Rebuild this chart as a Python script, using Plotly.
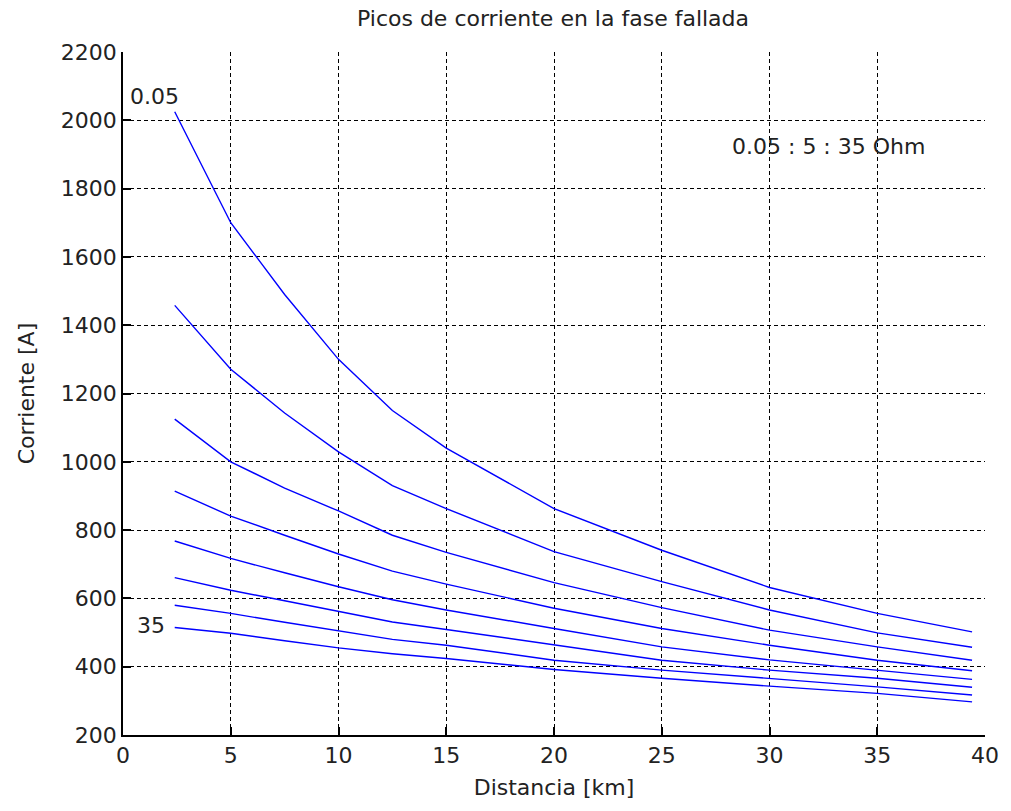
import plotly.graph_objects as go

# Distance samples [km]
distancia = [2.4, 5, 7.5, 10, 12.5, 15, 20, 25, 30, 35, 39.4]

# Fault resistance values [Ohm]: 0.05 : 5 : 35
resistencias = [0.05, 5.05, 10.05, 15.05, 20.05, 25.05, 30.05, 35.05]

# Peak current [A] for each fault resistance
i_r0 = [2025, 1700, 1490, 1300, 1150, 1040, 863, 741, 632, 556, 502]
i_r1 = [1458, 1271, 1143, 1029, 930, 863, 737, 649, 566, 499, 457]
i_r2 = [1125, 1000, 923, 856, 785, 735, 646, 573, 507, 458, 419]
i_r3 = [914, 841, 785, 730, 680, 642, 571, 512, 463, 419, 388]
i_r4 = [768, 717, 675, 634, 596, 566, 512, 458, 420, 390, 363]
i_r5 = [661, 624, 593, 561, 531, 509, 463, 419, 390, 366, 340]
i_r6 = [580, 556, 530, 504, 480, 463, 419, 390, 366, 341, 317]
i_r7 = [515, 498, 476, 455, 438, 424, 392, 366, 343, 322, 297]

series = [i_r0, i_r1, i_r2, i_r3, i_r4, i_r5, i_r6, i_r7]

x_ticks = [0, 5, 10, 15, 20, 25, 30, 35, 40]
y_ticks = [200, 400, 600, 800, 1000, 1200, 1400, 1600, 1800, 2000, 2200]

FONT = "DejaVu Sans"
FS = 22
TXT = "#222222"

fig = go.Figure()
for r, vals in zip(resistencias, series):
    fig.add_trace(go.Scatter(
        x=distancia, y=vals, mode="lines",
        line=dict(color="#0000FF", width=1.4),
        name=f"{r} Ohm", showlegend=False,
    ))

axis_common = dict(
    showgrid=True, gridcolor="black", gridwidth=1, griddash="4px,3px",
    zeroline=False, showline=True, linecolor="black", linewidth=1.5,
    ticks="inside", ticklen=8, tickcolor="black", tickwidth=1.5,
    tickfont=dict(family=FONT, size=FS, color=TXT),
    mirror=False,
)

fig.update_xaxes(
    range=[0, 40], tickvals=x_ticks, ticktext=[str(v) for v in x_ticks],
    title=dict(text="Distancia [km]", font=dict(family=FONT, size=FS, color=TXT), standoff=12),
    **axis_common,
)
fig.update_yaxes(
    range=[200, 2200], tickvals=y_ticks, ticktext=[str(v) for v in y_ticks],
    title=dict(text="Corriente [A]", font=dict(family=FONT, size=FS, color=TXT), standoff=20),
    **axis_common,
)

fig.add_annotation(x=0.25, y=2070, text="0.05", showarrow=False, xanchor="left", yanchor="middle",
                   font=dict(family=FONT, size=FS, color=TXT))
fig.add_annotation(x=0.55, y=522, text="35", showarrow=False, xanchor="left", yanchor="middle",
                   font=dict(family=FONT, size=FS, color=TXT))
fig.add_annotation(x=28.15, y=1924, text="0.05 : 5 : 35 Ohm", showarrow=False, xanchor="left", yanchor="middle",
                   font=dict(family=FONT, size=FS, color=TXT))

fig.update_layout(
    width=1011, height=811,
    margin=dict(l=123, r=21, t=52, b=76),
    paper_bgcolor="white", plot_bgcolor="white",
    title=dict(text="Picos de corriente en la fase fallada", x=0.547, xanchor="center",
               y=1 - 18 / 811, yanchor="middle",
               font=dict(family=FONT, size=FS, color=TXT)),
)

fig.write_html("out.html")
